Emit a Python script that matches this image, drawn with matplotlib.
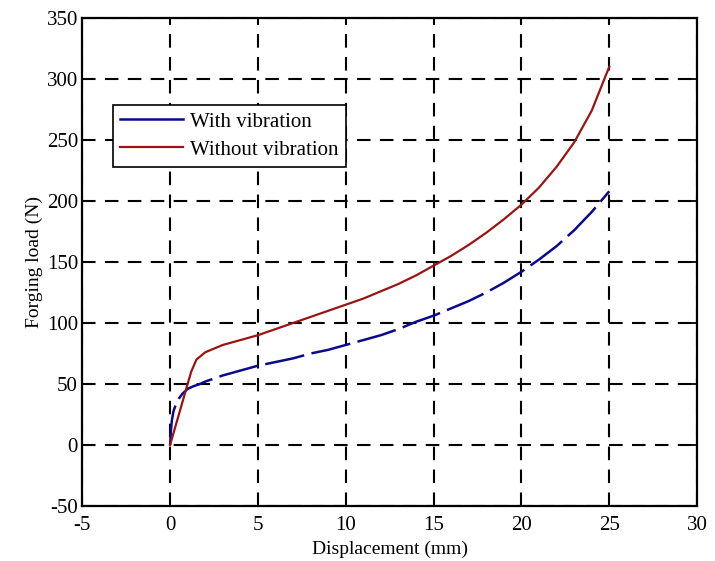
import matplotlib
matplotlib.use("Agg")
import matplotlib.pyplot as plt

# displacement (mm) / forging load (N)
x_with = [0, 0.05, 0.1, 0.2, 0.35, 0.5, 0.7, 1.0, 1.3, 1.7, 2.0, 3.0, 4.0, 5.0, 6.0, 7.0, 8.0,
          9.0, 10.0, 11.0, 12.0, 13.0, 14.0, 15.0, 16.0, 17.0, 18.0, 19.0, 20.0, 21.0,
          22.0, 23.0, 24.0, 25.0]
y_with = [0, 12, 20, 28, 34, 38, 42, 46, 48, 50, 52, 57, 61, 65, 68, 71, 75,
          78, 82, 86, 90, 95, 101, 106, 112, 118, 125, 133, 142, 152,
          163, 176, 191, 208]

x_without = [0, 0.3, 0.6, 0.9, 1.2, 1.5, 2.0, 2.5, 3.0, 4.0, 5.0, 6.0, 7.0, 8.0, 9.0, 10.0,
             11.0, 12.0, 13.0, 14.0, 15.0, 16.0, 17.0, 18.0, 19.0, 20.0, 21.0, 22.0,
             23.0, 24.0, 25.0]
y_without = [0, 15, 30, 45, 60, 70, 76, 79, 82, 86, 90, 95, 100, 105, 110, 115,
             120, 126, 132, 139, 147, 155, 164, 174, 185, 197, 211, 228,
             248, 274, 310]

labels = ["With vibration", "Without vibration"]
xticks = list(range(-5, 31, 5))
yticks = list(range(-50, 351, 50))

plt.rcParams["font.family"] = ["Liberation Serif", "DejaVu Serif"]
plt.rcParams["font.size"] = 15
plt.rcParams["axes.unicode_minus"] = False

fig = plt.figure(figsize=(7.15, 5.61), dpi=100)
ax = fig.add_axes([0.115, 0.098, 0.86, 0.87])

ax.plot(x_with, y_with, color="#0a0a8c", lw=1.8, ls=(0, (16, 3)), label=labels[0])
ax.plot(x_without, y_without, color="#9a1414", lw=1.6, label=labels[1])

ax.set_xlim(-5, 30)
ax.set_ylim(-50, 350)
ax.set_xticks(xticks)
ax.set_yticks(yticks)
ax.grid(True, color="black", ls=(0, (6.5, 4.5)), lw=1.5)
ax.tick_params(direction="in", top=True, right=True, length=5, width=1.3,
               labelsize=15)
ax.tick_params(axis="x", pad=7)
ax.tick_params(axis="y", pad=3)
for s in ax.spines.values():
    s.set_linewidth(1.6)

ax.set_xlabel("Displacement (mm)", fontsize=14, labelpad=4)
ax.set_ylabel("Forging load (N)", fontsize=14, labelpad=3)

leg = ax.legend(loc="upper left", bbox_to_anchor=(0.050, 0.822), fancybox=False,
                edgecolor="black", framealpha=1, borderaxespad=0, handlelength=3.0,
                handletextpad=0.35, labelspacing=0.4, borderpad=0.35, fontsize=15)
leg.get_frame().set_linewidth(1.2)
for h in leg.get_lines():
    h.set_linestyle("-")

fig.savefig("out.png", dpi=100)
